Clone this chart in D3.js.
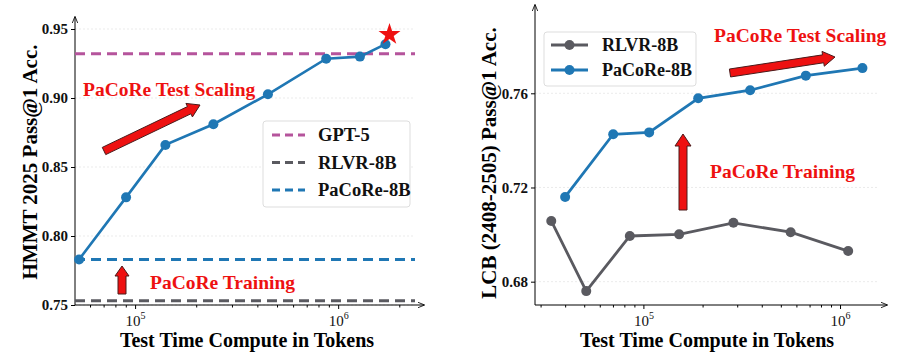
<!DOCTYPE html>
<html>
<head>
<meta charset="utf-8">
<script src="https://cdn.jsdelivr.net/npm/d3@7"></script>
<style>
  body { margin: 0; background: #fff; }
  text { font-family: "Liberation Serif", "Times New Roman", serif; }
</style>
</head>
<body>
<svg width="910" height="362"></svg>
<script>
// Left panel: HMMT 2025
const hmmtTokens = [53000, 90300, 141000, 243000, 451000, 873000, 1280000, 1710000];
const hmmtPaCoRe = [0.783, 0.828, 0.866, 0.881, 0.9027, 0.9285, 0.930, 0.939];
const hmmtStar = [1790000, 0.946];
const hmmtRefs = [
  { name: "GPT-5", value: 0.932, color: "#b5549c" },
  { name: "RLVR-8B", value: 0.753, color: "#5a5a60" },
  { name: "PaCoRe-8B", value: 0.783, color: "#1f77b4" }
];
const hmmtYTicks = [0.75, 0.80, 0.85, 0.90, 0.95];

// Right panel: LCB (2408-2505)
const lcbPaCoReTokens = [40000, 70200, 107000, 190000, 349000, 670000, 1300000];
const lcbPaCoRe = [0.716, 0.7426, 0.7434, 0.7579, 0.7613, 0.7675, 0.7707];
const lcbRlvrTokens = [34000, 51200, 85300, 152000, 287000, 561000, 1100000];
const lcbRlvr = [0.7058, 0.676, 0.6994, 0.7001, 0.7050, 0.7010, 0.6930];
const lcbYTicks = [0.68, 0.72, 0.76];

const blue = "#1f77b4", gray = "#5a5a60", red = "#ee1111";
const svg = d3.select("svg");

svg.append("defs").append("marker")
  .attr("id", "ah").attr("viewBox", "0 0 10 10")
  .attr("refX", 9).attr("refY", 5)
  .attr("markerWidth", 7).attr("markerHeight", 7)
  .attr("markerUnits", "userSpaceOnUse")
  .attr("orient", "auto")
  .append("path").attr("d", "M0,1 L10,5 L0,9").attr("fill", "none")
  .attr("stroke", "#000").attr("stroke-width", 1.2);

function fatArrow(g, x1, y1, x2, y2, shaft, head, headLen) {
  const dx = x2 - x1, dy = y2 - y1, L = Math.hypot(dx, dy);
  const ux = dx / L, uy = dy / L, nx = -uy, ny = ux;
  const b = L - headLen;
  const pt = (a, o) => [x1 + ux * a + nx * o, y1 + uy * a + ny * o];
  const pts = [pt(0, shaft / 2), pt(b, shaft / 2), pt(b, head / 2), pt(L, 0),
    pt(b, -head / 2), pt(b, -shaft / 2), pt(0, -shaft / 2)];
  g.append("polygon").attr("points", pts.map(p => p.join(",")).join(" "))
    .attr("fill", red).attr("stroke", "#4a1a1a").attr("stroke-width", 1);
}

function panel(cfg) {
  const g = svg.append("g");
  const x = d3.scaleLog().domain(cfg.xDomain).range([cfg.left, cfg.right]);
  const y = d3.scaleLinear().domain(cfg.yDomain).range([cfg.bottom, cfg.top]);

  // grid
  g.selectAll(".grid").data(cfg.yTicks).enter().append("line")
    .attr("x1", cfg.left).attr("x2", cfg.right)
    .attr("y1", d => y(d)).attr("y2", d => y(d))
    .attr("stroke", "#e6e6e6").attr("stroke-width", 0.8).attr("stroke-dasharray", "2,2");

  // y axis
  const ya = g.append("g").attr("transform", `translate(${cfg.left},0)`)
    .call(d3.axisLeft(y).tickValues(cfg.yTicks).tickSize(4).tickPadding(3).tickFormat(cfg.yFmt));
  ya.select(".domain").remove();
  ya.selectAll("text").attr("font-size", 15).attr("font-weight", "bold")
    .attr("font-family", "Liberation Serif").attr("fill", "#111");

  // x axis
  const lo = Math.log10(cfg.xDomain[0]), hi = Math.log10(cfg.xDomain[1]);
  const minor = [];
  for (let e = Math.floor(lo); e <= Math.ceil(hi); e++)
    for (let m = 1; m < 10; m++) {
      const v = m * Math.pow(10, e);
      if (v >= cfg.xDomain[0] && v <= cfg.xDomain[1]) minor.push(v);
    }
  const xa = g.append("g").attr("transform", `translate(0,${cfg.bottom})`)
    .call(d3.axisBottom(x).tickValues(minor).tickSize(2.5).tickFormat(""));
  xa.select(".domain").remove();
  xa.selectAll(".tick").filter(d => Math.abs(Math.log10(d) % 1) < 1e-9)
    .select("line").attr("y2", 4);
  xa.selectAll(".tick").filter(d => Math.abs(Math.log10(d) % 1) < 1e-9)
    .append("text").attr("y", 21).attr("text-anchor", "middle")
    .attr("fill", "#111").attr("font-size", 15).attr("font-family", "Liberation Serif")
    .each(function (d) {
      const t = d3.select(this);
      t.append("tspan").text("10");
      t.append("tspan").attr("dy", -7).attr("font-size", 10).text(Math.round(Math.log10(d)));
    });

  g.append("line").attr("x1", cfg.left).attr("x2", cfg.left)
    .attr("y1", cfg.bottom).attr("y2", cfg.top - 12)
    .attr("stroke", "#000").attr("stroke-width", 1).attr("marker-end", "url(#ah)");
  g.append("line").attr("x1", cfg.left).attr("x2", cfg.right + 9)
    .attr("y1", cfg.bottom).attr("y2", cfg.bottom)
    .attr("stroke", "#000").attr("stroke-width", 1).attr("marker-end", "url(#ah)");

  // titles
  g.append("text").attr("x", cfg.xTitleX).attr("y", 347)
    .attr("text-anchor", "middle").attr("font-size", 20).attr("font-weight", "bold")
    .text("Test Time Compute in Tokens");
  g.append("text").attr("transform", `translate(${cfg.yTitleX},${cfg.yTitleY}) rotate(-90)`)
    .attr("text-anchor", "middle").attr("font-size", 21).attr("font-weight", "bold")
    .text(cfg.yTitle);

  return { g, x, y };
}

// ---------- Left ----------
const L = panel({
  left: 75, right: 415, top: 29, bottom: 305,
  xDomain: [50600, 2390000], yDomain: [0.75, 0.95],
  yTicks: hmmtYTicks, yFmt: d3.format(".2f"),
  yTitle: "HMMT 2025 Pass@1 Acc.", yTitleX: 37, yTitleY: 162, xTitleX: 247
});

hmmtRefs.forEach(r => {
  L.g.append("line").attr("x1", 75).attr("x2", 415)
    .attr("y1", L.y(r.value)).attr("y2", L.y(r.value))
    .attr("stroke", r.color).attr("stroke-width", 3).attr("stroke-dasharray", "10,6");
});

const hmmtPts = hmmtTokens.map((t, i) => [t, hmmtPaCoRe[i]]);
L.g.append("path").datum(hmmtPts)
  .attr("d", d3.line().x(d => L.x(d[0])).y(d => L.y(d[1])))
  .attr("fill", "none").attr("stroke", blue).attr("stroke-width", 2.6);
L.g.selectAll(".pt").data(hmmtPts).enter().append("circle")
  .attr("cx", d => L.x(d[0])).attr("cy", d => L.y(d[1])).attr("r", 5).attr("fill", blue);
L.g.append("path").attr("d", d3.symbol(d3.symbolStar, 150)())
  .attr("transform", `translate(${L.x(hmmtStar[0])},${L.y(hmmtStar[1])})`)
  .attr("fill", red);

// legend
const lg = L.g.append("g");
lg.append("rect").attr("x", 263).attr("y", 121).attr("width", 147).attr("height", 86)
  .attr("rx", 3).attr("fill", "#fff").attr("stroke", "#ddd").attr("stroke-width", 1);
hmmtRefs.forEach((r, i) => {
  const yy = 135 + i * 27.5;
  lg.append("line").attr("x1", 272).attr("x2", 305).attr("y1", yy).attr("y2", yy)
    .attr("stroke", r.color).attr("stroke-width", 3).attr("stroke-dasharray", "8,5");
  lg.append("text").attr("x", 318).attr("y", yy + 6).attr("font-size", 18.5)
    .attr("font-weight", "bold").attr("fill", "#111").text(r.name);
});

// annotations
L.g.append("text").attr("x", 83).attr("y", 96).attr("font-size", 19.5)
  .attr("font-weight", "bold").attr("fill", red).text("PaCoRe Test Scaling");
fatArrow(L.g, 104, 151, 200, 105, 8, 15, 12);
L.g.append("text").attr("x", 150).attr("y", 289).attr("font-size", 19.5)
  .attr("font-weight", "bold").attr("fill", red).text("PaCoRe Training");
fatArrow(L.g, 122, 294, 122, 266, 8, 14, 10);

// ---------- Right ----------
const R = panel({
  left: 535, right: 878, top: 17, bottom: 305,
  xDomain: [28100, 1560000], yDomain: [0.6701, 0.7924],
  yTicks: lcbYTicks, yFmt: d3.format(".2f"),
  yTitle: "LCB (2408-2505) Pass@1 Acc.", yTitleX: 496, yTitleY: 163, xTitleX: 707
});

const series = [
  { name: "RLVR-8B", color: gray, pts: lcbRlvrTokens.map((t, i) => [t, lcbRlvr[i]]) },
  { name: "PaCoRe-8B", color: blue, pts: lcbPaCoReTokens.map((t, i) => [t, lcbPaCoRe[i]]) }
];
series.forEach(s => {
  R.g.append("path").datum(s.pts)
    .attr("d", d3.line().x(d => R.x(d[0])).y(d => R.y(d[1])))
    .attr("fill", "none").attr("stroke", s.color).attr("stroke-width", 2.8);
  R.g.selectAll(null).data(s.pts).enter().append("circle")
    .attr("cx", d => R.x(d[0])).attr("cy", d => R.y(d[1])).attr("r", 5).attr("fill", s.color);
});

const rg = R.g.append("g");
rg.append("rect").attr("x", 544).attr("y", 32).attr("width", 152).attr("height", 54)
  .attr("rx", 3).attr("fill", "#fff").attr("stroke", "#ddd").attr("stroke-width", 1);
series.forEach((s, i) => {
  const yy = 45 + i * 25;
  rg.append("line").attr("x1", 551).attr("x2", 588).attr("y1", yy).attr("y2", yy)
    .attr("stroke", s.color).attr("stroke-width", 2.8);
  rg.append("circle").attr("cx", 569.5).attr("cy", yy).attr("r", 5).attr("fill", s.color);
  rg.append("text").attr("x", 602).attr("y", yy + 6).attr("font-size", 18)
    .attr("font-weight", "bold").attr("fill", "#111").text(s.name);
});

R.g.append("text").attr("x", 714).attr("y", 42).attr("font-size", 19.5)
  .attr("font-weight", "bold").attr("fill", red).text("PaCoRe Test Scaling");
fatArrow(R.g, 730, 73, 835, 57, 8, 15, 12);
R.g.append("text").attr("x", 710).attr("y", 178).attr("font-size", 19.5)
  .attr("font-weight", "bold").attr("fill", red).text("PaCoRe Training");
fatArrow(R.g, 683, 210, 683, 134, 8, 16, 12);
</script>
</body>
</html>
